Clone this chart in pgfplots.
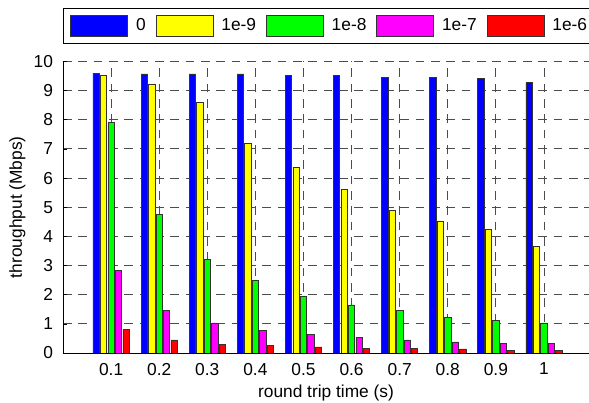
\documentclass[border=0pt]{standalone}
\usepackage{pgfplots}
\pgfplotsset{compat=1.18}
\usepackage{pgfplotstable}
\usepackage{fontspec}
\setmainfont{Liberation Sans}
\definecolor{cgreen}{RGB}{0,255,0}
\definecolor{cmag}{RGB}{255,0,255}
\definecolor{cblue}{RGB}{0,0,255}
\definecolor{cyel}{RGB}{255,255,0}
\definecolor{cred}{RGB}{255,0,0}
\pgfplotstableread{
x    a     b     c     d     e
0.1  9.60  9.53  7.91  2.82  0.82
0.2  9.57  9.23  4.75  1.45  0.45
0.3  9.57  8.59  3.20  1.03  0.30
0.4  9.57  7.18  2.49  0.78  0.25
0.5  9.52  6.37  1.94  0.63  0.21
0.6  9.52  5.62  1.65  0.54  0.15
0.7  9.46  4.90  1.45  0.45  0.15
0.8  9.46  4.53  1.22  0.38  0.14
0.9  9.41  4.23  1.12  0.34  0.09
1.0  9.27  3.65  1.03  0.34  0.09
}\datatable
\begin{document}
\fontsize{13}{15}\selectfont
\begin{tikzpicture}
\begin{axis}[
  at={(0,0)}, anchor=south west,
  scale only axis,
  width=394.5pt, height=218.7pt,
  xmin=0, xmax=1.0936, ymin=0, ymax=10,
  font=\fontsize{13}{15}\selectfont,
  /pgf/number format/assume math mode=true,
  ybar=0.85pt, bar width=4.75pt,
  xtick={0.1,0.2,0.3,0.4,0.5,0.6,0.7,0.8,0.9,1},
  xticklabels={0.1,0.2,0.3,0.4,0.5,0.6,0.7,0.8,0.9,1},
  ytick={0,1,...,10},
  axis x line*=bottom, axis y line*=left,
  axis line style={black, line width=0.6pt, -},
  tick align=inside,
  xtick style={draw=none},
  ytick style={black, line width=0.5pt},
  major tick length=3pt,
  yticklabel style={xshift=-3pt},
  xticklabel style={yshift=-3pt},
  grid=major,
  major grid style={black!70, line width=0.6pt, dash pattern=on 6.5pt off 5pt},
  xlabel={round trip time (s)},
  ylabel={throughput (Mbps)},
  xlabel style={at={(axis description cs:0.5,-0.136)}, anchor=center},
  ylabel style={at={(axis description cs:-0.0865,0.5)}, anchor=center},
  legend columns=5,
  legend image code/.code={\draw[#1, line width=0.5pt] (0pt,-7.8pt) rectangle (42.75pt,7.8pt);},
  legend style={at={(axis description cs:0,1)}, anchor=south west, yshift=13.3pt,
    draw=black, line width=0.6pt, inner xsep=5.25pt, inner ysep=5pt,
    font=\fontsize{13}{15}\selectfont,
    nodes={inner xsep=0pt, inner ysep=0pt},
    /tikz/every odd column/.append style={column sep=6pt},
    /tikz/every even column/.append style={column sep=7.5pt}},
]
\addplot[fill=cblue, draw=black!80, line width=0.5pt] table[x=x,y=a]{\datatable};
\addplot[fill=cyel, draw=black!80, line width=0.5pt] table[x=x,y=b]{\datatable};
\addplot[fill=cgreen, draw=black!80, line width=0.5pt] table[x=x,y=c]{\datatable};
\addplot[fill=cmag, draw=black!80, line width=0.5pt] table[x=x,y=d]{\datatable};
\addplot[fill=cred, draw=black!80, line width=0.5pt] table[x=x,y=e]{\datatable};
\legend{0,1e-9,1e-8,1e-7,1e-6}
\end{axis}
\pgfresetboundingbox
\path (-47.25pt,-37.5pt) rectangle (394.5pt,264.75pt);
\end{tikzpicture}
\end{document}
